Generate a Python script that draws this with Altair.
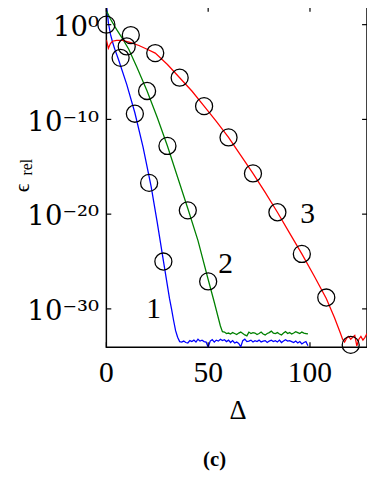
import altair as alt
import pandas as pd

# ---------------- data (log10 of eps_rel) ----------------
blue_x = [0, 1, 2, 3, 4, 6, 10, 14, 18, 22, 25, 28, 31, 32, 33, 34, 35]
blue_log = [2.2, 0.2, -1.0, -1.8, -2.5, -3.7, -6.3, -9.3, -12.9, -17.1, -20.9, -24.9,
            -28.9, -30.0, -31.2, -32.3, -33.0]
blue_floor_start = 36
blue_floor = [-33.45, -33.5, -33.4, -33.55, -33.6, -33.35, -33.45, -33.3, -33.5, -33.2,
              -33.4, -33.3, -33.45, -33.5, -34.05, -33.4, -33.25, -33.5, -33.3, -33.4,
              -33.2, -33.35, -33.25, -33.45, -33.3, -33.55, -33.35, -33.6, -33.5, -33.65,
              -34.0, -33.35, -33.2, -33.45, -33.4, -33.3, -33.5, -33.35, -33.45, -33.3,
              -33.5, -33.4, -33.35, -33.55, -33.4, -33.3, -33.45, -33.35, -33.5, -33.3,
              -33.55, -33.4, -33.25, -33.4, -33.35, -33.45, -33.55, -33.4, -33.6, -33.45,
              -33.7, -33.55, -33.45, -33.9]

green_x = [0, 2, 5, 8, 11, 15, 20, 25, 30, 35, 40, 45, 50, 53, 56, 57]
green_log = [1.5, 0.6, -0.5, -1.5, -2.6, -4.5, -7.0, -9.8, -12.8, -16.1, -19.4, -22.8,
             -26.9, -29.3, -31.8, -32.4]
green_floor_start = 58
green_floor = [-32.45, -32.6, -32.55, -32.65, -32.5, -32.6, -32.7, -32.55, -32.45, -32.6,
               -32.75, -32.85, -32.45, -32.6, -32.5, -32.55, -32.7, -32.6, -32.45, -32.65,
               -32.75, -32.6, -32.5, -32.35, -32.55, -32.6, -32.5, -32.65, -32.75, -32.55,
               -32.4, -32.6, -32.5, -32.65, -32.55, -32.4, -32.5, -32.6, -32.45, -32.55,
               -32.6, -32.65]

red_x = [0, 1, 2, 3, 5, 8, 12, 16, 20, 24, 30, 36, 42, 48, 54, 60, 66, 72, 78, 84, 90,
         96, 102, 108, 112, 115]
red_log = [-1.6, -2.5, -2.0, -1.75, -1.65, -1.65, -1.9, -2.2, -2.6, -3.0, -4.2, -5.6,
           -7.0, -8.6, -10.2, -11.9, -13.8, -15.7, -17.7, -19.8, -22.0, -24.2, -26.5,
           -28.9, -30.9, -32.6]
red_floor_start = 116
red_floor = [-33.2, -33.5, -33.1, -32.9, -33.2, -33.0, -32.8, -33.9, -33.2, -32.9, -33.3,
             -33.0, -32.6]

circle_x = [0, 7, 14, 21, 28, 10, 20, 30, 40, 50, 12, 24, 36, 48, 60, 72, 84, 96, 108, 120]
circle_log = [0, -3.5, -9.4, -16.7, -25.0, -2.3, -7.0, -12.8, -19.6, -27.1, -1.1, -3.0,
              -5.6, -8.6, -11.9, -15.7, -19.8, -24.2, -28.8, -33.8]

curve_labels = ["1", "2", "3"]
label_x = [23.2, 58.6, 98.9]
label_log = [-30.0, -25.3, -20.0]

x_ticks = [0, 50, 100]
x_tick_labels = ["0", "50", "100"]
y_tick_exp = [0, -10, -20, -30]
y_tick_labels = ["10\u2070", "10\u207b\u00b9\u2070", "10\u207b\u00b2\u2070", "10\u207b\u00b3\u2070"]

colors = ["#0000ff", "#008000", "#ff0000"]

# ---------------- tables ----------------
W, H = 265, 346
FONT = "Liberation Serif"
SUP_FONT = "DejaVu Serif"

def series(name, xs, logs, start, floor):
    xs2 = list(xs) + [start + i for i in range(len(floor))]
    ls = list(logs) + list(floor)
    return pd.DataFrame({"d": xs2, "v": [10.0 ** l for l in ls], "s": name})

lines_df = pd.concat([
    series("1", blue_x, blue_log, blue_floor_start, blue_floor),
    series("2", green_x, green_log, green_floor_start, green_floor),
    series("3", red_x, red_log, red_floor_start, red_floor),
], ignore_index=True)

circ_df = pd.DataFrame({"d": circle_x, "v": [10.0 ** l for l in circle_log]})
lab_df = pd.DataFrame({"d": label_x, "v": [10.0 ** l for l in label_log], "t": curve_labels})
xt_df = pd.DataFrame({"d": x_ticks, "t": x_tick_labels})
y_tick_vals = [10.0 ** e for e in y_tick_exp]
yt_df = pd.DataFrame({"v": y_tick_vals})

# label expression built from the tick arrays
expr = "''"
for e, lab in zip(reversed(y_tick_exp), reversed(y_tick_labels)):
    expr = f"(round(log(datum.value)/LN10) == {e} ? '{lab}' : {expr})"

xs = alt.Scale(domain=[0, 128], nice=False, zero=False)
ys = alt.Scale(type="log", domain=[10 ** -34.05, 10 ** 1.87], nice=False)
Y_AXIS = alt.Axis(
    values=y_tick_vals, labelExpr=expr, ticks=False, domain=False, grid=False,
    title=None, labelFont=SUP_FONT, labelFontSize=28, labelColor="black",
    labelPadding=8, labelOffset=3, labelBaseline="middle")
X = alt.X("d:Q", scale=xs, axis=None)
Y = alt.Y("v:Q", scale=ys, axis=Y_AXIS)

lines = alt.Chart(lines_df).mark_line(clip=True, strokeWidth=1.3).encode(
    x=X, y=Y,
    color=alt.Color("s:N", scale=alt.Scale(domain=["1", "2", "3"], range=colors), legend=None),
)

circles = alt.Chart(circ_df).mark_point(shape="circle", filled=False, size=300,
                                        strokeWidth=1.3, color="black", opacity=1).encode(x=X, y=Y)

labels = alt.Chart(lab_df).mark_text(font=FONT, fontSize=30, color="black",
                                     baseline="middle", align="center").encode(x=X, y=Y, text="t:N")

# inward ticks
xt_bottom = alt.Chart(xt_df).mark_rule(color="black", strokeWidth=1.2).encode(
    x=X, y=alt.value(H), y2=alt.value(H - 5))
xt_top = alt.Chart(xt_df).mark_rule(color="black", strokeWidth=1.2).encode(
    x=X, y=alt.value(0), y2=alt.value(5))
yt_left = alt.Chart(yt_df).mark_rule(color="black", strokeWidth=1.2).encode(
    y=Y, x=alt.value(0), x2=alt.value(5))
yt_right = alt.Chart(yt_df).mark_rule(color="black", strokeWidth=1.2).encode(
    y=Y, x=alt.value(W), x2=alt.value(W - 5))

xt_text = alt.Chart(xt_df).mark_text(font=FONT, fontSize=30, color="black",
                                     baseline="middle", align="center").encode(
    x=X, y=alt.value(372), text="t:N")

one = pd.DataFrame({"t": ["x"]})
delta = alt.Chart(one).mark_text(font=FONT, fontSize=27, color="black", align="center",
                                 baseline="middle").encode(
    x=alt.value(134), y=alt.value(411), text=alt.value("\u0394"))
caption = alt.Chart(one).mark_text(font=FONT, fontSize=21, fontWeight="bold", color="black",
                                   align="center", baseline="middle").encode(
    x=alt.value(110), y=alt.value(461), text=alt.value("(c)"))
eps = alt.Chart(one).mark_text(font=FONT, fontSize=22, color="black", align="center",
                               baseline="middle", angle=270).encode(
    x=alt.value(-86), y=alt.value(184), text=alt.value("\u03f5"))
rel = alt.Chart(one).mark_text(font=FONT, fontSize=16, color="black", align="center",
                               baseline="middle", angle=270).encode(
    x=alt.value(-81), y=alt.value(163), text=alt.value("rel"))

chart = alt.layer(
    lines, circles, labels, xt_bottom, xt_top, yt_left, yt_right, xt_text,
    delta, caption, eps, rel
).properties(
    width=W, height=H,
    autosize=alt.AutoSizeParams(type="none"),
    padding={"left": 100, "top": -5, "right": 0, "bottom": 129},
).configure_view(stroke="black", strokeWidth=1.5)

chart.save("out.html", embed_options={"renderer": "svg", "actions": False})
